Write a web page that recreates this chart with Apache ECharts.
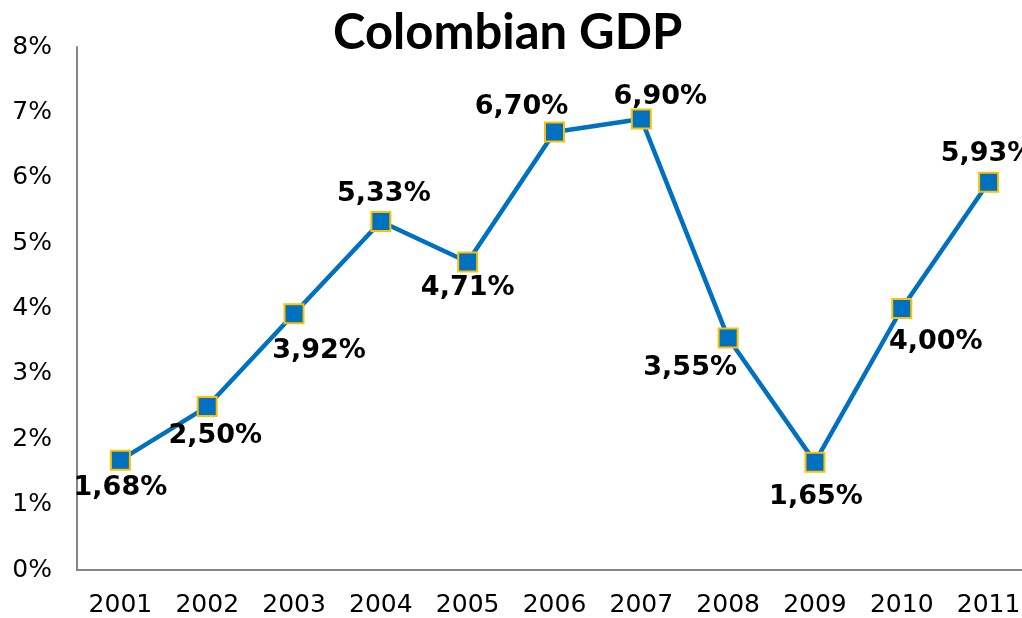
<!DOCTYPE html>
<html>
<head>
<meta charset="utf-8">
<script src="https://cdn.jsdelivr.net/npm/echarts@6/dist/echarts.min.js"></script>
<style>
  html, body { margin: 0; padding: 0; background: #fff; overflow: hidden; width: 1022px; height: 618px; }
  /* the plot runs a little past the right edge of the window */
  #chart { width: 1032px; height: 618px; }
</style>
</head>
<body>
<div id="chart"></div>
<script>
// Annual GDP growth, Colombia
const years = ['2001', '2002', '2003', '2004', '2005', '2006', '2007', '2008', '2009', '2010', '2011'];
const growth = [1.68, 2.50, 3.92, 5.33, 4.71, 6.70, 6.90, 3.55, 1.65, 4.00, 5.93];

// Where each value label sits relative to its marker (px)
const labelShift = [
  [0, 28], [8, 29], [25, 37], [3, -28], [0, 26], [-33, -25],
  [19, -22], [-38, 30], [1, 35], [34, 33], [-1, -28]
];

const fmt = v => v.toFixed(2).replace('.', ',') + '%';

const chart = echarts.init(document.getElementById('chart'), null, { renderer: 'canvas' });
chart.setOption({
  backgroundColor: '#ffffff',
  animation: false,
  title: {
    text: 'Colombian GDP',
    left: 328,
    top: 4,
    textStyle: { fontFamily: 'Lato', fontWeight: 'bold', fontSize: 49, color: '#000' }
  },
  grid: { left: 77, top: 47, bottom: 48, right: 0 },
  xAxis: {
    type: 'category',
    data: years,
    boundaryGap: true,
    axisLine: { lineStyle: { color: '#868686', width: 2 } },
    axisTick: { show: false },
    axisLabel: { color: '#000', fontFamily: 'DejaVu Sans', fontSize: 25, margin: 23, interval: 0 }
  },
  yAxis: {
    type: 'value',
    min: 0, max: 8, interval: 1,
    axisLine: { show: true, lineStyle: { color: '#868686', width: 2 } },
    axisTick: { show: false },
    splitLine: { show: false },
    axisLabel: { color: '#000', fontFamily: 'DejaVu Sans', fontSize: 25, margin: 25, formatter: '{value}%' }
  },
  series: [{
    type: 'line',
    data: growth.map((v, i) => ({
      value: v,
      label: { offset: labelShift[i] }
    })),
    lineStyle: { color: '#0070C0', width: 4.5 },
    symbol: 'rect',
    symbolSize: 19,
    itemStyle: { color: '#0070C0', borderColor: '#FFC000', borderWidth: 2 },
    label: {
      show: true,
      position: 'inside',
      align: 'center',
      verticalAlign: 'middle',
      formatter: p => fmt(p.value),
      color: '#000',
      fontFamily: 'DejaVu Sans',
      fontWeight: 'bold',
      fontSize: 27
    },
    z: 3
  }]
});
</script>
</body>
</html>
